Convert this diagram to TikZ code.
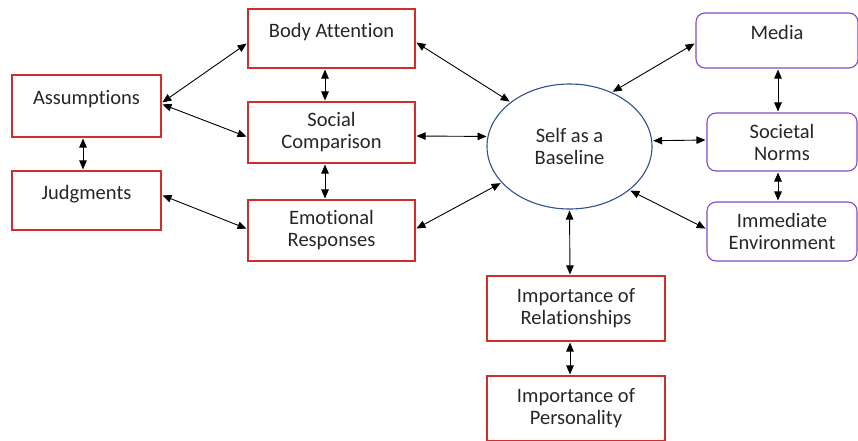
\documentclass[tikz,border=0pt]{standalone}
\usepackage{fontspec}
\setmainfont[Ligatures=NoCommon]{Carlito}
\usepackage{tikz}
\usetikzlibrary{arrows.meta,positioning,shapes.geometric}

\definecolor{boxred}{RGB}{210,45,45}
\definecolor{boxpurple}{RGB}{135,70,195}
\definecolor{ringblue}{RGB}{47,82,143}

\begin{document}
\begin{tikzpicture}[x=1pt,y=-1pt,
  redbox/.style={draw=boxred,line width=1.1pt,inner sep=0pt,align=center,
    text=black!85,font=\fontsize{20.5}{22}\selectfont},
  purplebox/.style={draw=boxpurple,line width=1.1pt,rounded corners=9pt,inner sep=0pt,
    align=center,text=black!85,font=\fontsize{20.5}{22}\selectfont},
  link/.style={{Triangle[length=9pt,width=7.5pt]}-{Triangle[length=9pt,width=7.5pt]},
    line width=0.9pt,shorten <=1pt,shorten >=1pt}]
\useasboundingbox (0,0) rectangle (858,440);

% Left column
\node[redbox,minimum width=149pt,minimum height=62pt] (assump) at (86.5,106) {Assumptions\\[-12pt] \strut};
\node[redbox,minimum width=149pt,minimum height=59pt] (judg) at (86.5,200.5) {Judgments\\[-12pt] \strut};

% Middle column
\node[redbox,minimum width=167pt,minimum height=59pt] (body) at (331.5,38.5) {Body Attention\\[-12pt] \strut};
\node[redbox,minimum width=167pt,minimum height=61pt] (social) at (331.5,132.5) {Social\\Comparison};
\node[redbox,minimum width=167pt,minimum height=61pt] (emot) at (331.5,230.5) {Emotional\\Responses};

% Centre
\node[draw=ringblue,line width=1.1pt,ellipse,minimum width=165pt,minimum height=125pt,
  align=center,text=black!85,font=\fontsize{20.5}{22}\selectfont] (self) at (569.5,146.5) {Self as a\\Baseline};

% Right column
\node[purplebox,minimum width=162pt,minimum height=55pt] (media) at (777,40.5) {Media\\[-12pt] \strut};
\node[purplebox,minimum width=150pt,minimum height=58pt] (norms) at (782,142) {Societal\\Norms};
\node[purplebox,minimum width=150pt,minimum height=59pt] (env) at (782,231.5) {Immediate\\Environment};

% Bottom
\node[redbox,minimum width=178pt,minimum height=65pt] (rel) at (576,308.5) {Importance of\\Relationships};
\node[redbox,minimum width=178pt,minimum height=65pt] (pers) at (576,408.5) {Importance of\\Personality};

% Connectors
\draw[link] ([yshift=3pt]assump.east) -- ([yshift=-4.5pt]body.west);
\draw[link] ([yshift=2pt]assump.east) -- ([yshift=-4.5pt]social.west);
\draw[link] ([xshift=-3.5pt]assump.south) -- ([xshift=-3.5pt]judg.north);
\draw[link] ([yshift=5.5pt]judg.east) -- ([yshift=1.5pt]emot.west);
\draw[link] ([xshift=-6.5pt]body.south) -- ([xshift=-6.5pt]social.north);
\draw[link] ([xshift=-6.5pt]social.south) -- ([xshift=-6.5pt]emot.north);
\draw[link] ([yshift=-3.5pt]body.east) -- (self.143);
\draw[link] ([yshift=-3.5pt]social.east) -- (self.173);
\draw[link] ([yshift=1.5pt]emot.east) -- (self.208);
\draw[link] ([yshift=-2.5pt]media.west) -- (self.52);
\draw[link] (self.4.5) -- ([yshift=2pt]norms.west);
\draw[link] (self.324) -- ([yshift=2.5pt]env.west);
\draw[link] ([xshift=1pt]media.south) -- ([xshift=-4pt]norms.north);
\draw[link] ([xshift=-4pt]norms.south) -- ([xshift=-4pt]env.north);
\draw[link] (self.south) -- ([xshift=-6pt]rel.north);
\draw[link] ([xshift=-6pt]rel.south) -- ([xshift=-6pt]pers.north);
\end{tikzpicture}
\end{document}
